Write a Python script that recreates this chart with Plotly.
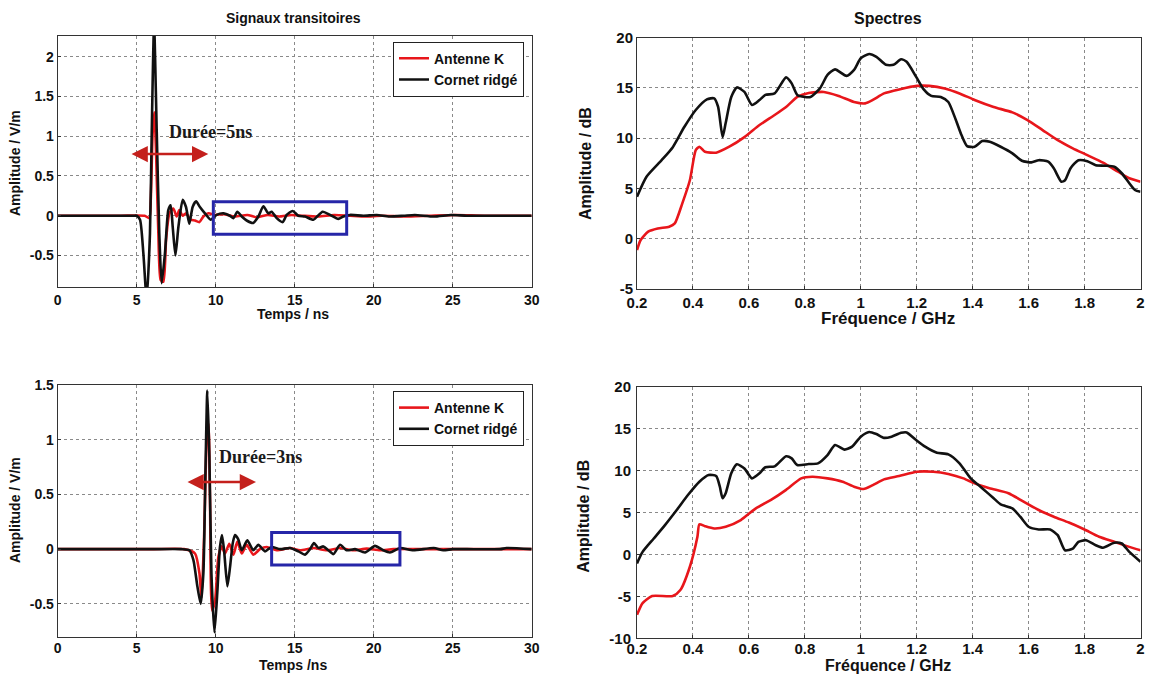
import plotly.graph_objects as go

# ---------------- data ----------------
series_names = ["Antenne K", "Cornet ridgé"]

# Top-left: transient signals (time in ns, amplitude in V/m)
tl_red_t = [0, 2.0, 4.0, 5.5, 5.8, 5.89, 6.01, 6.12, 6.22, 6.37, 6.52, 6.69, 6.86, 7.07, 7.32, 7.53, 7.7, 7.91, 8.12, 8.42, 8.69, 8.97, 9.22,
            9.54, 9.96, 10.5, 11.2, 12.0, 12.6, 13.3, 14.0, 14.8, 15.5, 16.5, 17.5, 18.5, 19.5, 20.5, 22.0, 23.5, 25.2, 27.0, 30.0]
tl_red_v = [0, 0, 0, 0, -0.03, 0.2, 1.04, 1.3, 0.83, -0.22, -0.81, -0.83, -0.3, 0.03, 0.09, -0.01, 0.07, 0.0, 0.03, -0.05, -0.06, -0.08, -0.01,
            0.03, 0.01, 0.02, -0.01, 0.01, -0.02, 0.01, -0.01, 0.01, 0.0, -0.01, 0.01, 0.0, -0.01, 0.0, -0.01, 0.0, 0.01, 0.0, 0.0]
tl_black_t = [0, 2.0, 4.0, 4.8, 5.0, 5.21, 5.42, 5.63, 5.84, 5.95, 6.1, 6.27, 6.43, 6.58, 6.79, 7.0, 7.15, 7.28, 7.45, 7.64, 7.91, 8.12, 8.33,
              8.54, 8.76, 9.0, 9.32, 9.68, 10.06, 10.49, 10.9, 11.12, 11.37, 11.65, 11.96, 12.38, 12.7, 13.02, 13.33, 13.54, 13.86, 14.24, 14.49,
              14.87, 15.23, 15.65, 16.18, 16.77, 17.24, 17.76, 18.08, 18.5, 19.35, 20.19, 21.0, 21.9, 22.6, 23.8, 24.9, 25.9, 28.0, 30.0]
tl_black_v = [0, 0, 0, 0, 0, -0.05, -0.47, -1.05, -0.22, 1.03, 2.4, 1.04, -0.22, -0.85, -0.47, 0.07, 0.13, -0.14, -0.5, -0.14, 0.2, 0.11, -0.1,
              0.11, 0.18, 0.11, 0.03, -0.05, 0.01, 0.03, 0.0, -0.03, 0.05, -0.01, -0.06, -0.09, -0.01, 0.12, 0.03, 0.05, -0.03, -0.08, 0.01,
              0.06, 0.0, -0.01, -0.05, 0.05, 0.01, -0.04, -0.01, 0.01, 0.0, 0.01, -0.01, 0.0, 0.01, -0.01, 0.01, 0.0, 0.0, 0.0]

# Bottom-left: transient signals
bl_red_t = [0, 3.0, 6.0, 8.0, 8.69, 8.97, 9.1, 9.26, 9.43, 9.54, 9.64, 9.77, 9.96, 10.17, 10.38, 10.59, 10.86, 11.12, 11.37, 11.65, 11.96, 12.38, 12.8,
            13.23, 13.86, 14.7, 15.34, 16.18, 17.03, 17.87, 18.7, 19.56, 20.4, 21.25, 24.0, 26.0, 30.0]
bl_red_v = [0, 0, 0, 0, -0.04, -0.22, -0.45, 0.09, 1.0, 1.15, 0.45, -0.56, -0.47, -0.07, 0.025, -0.04, 0.05, -0.05, 0.07, -0.04, 0.04, -0.05, 0.0,
            0.02, -0.01, 0.01, -0.01, 0.01, -0.01, 0.01, -0.01, 0.005, -0.01, 0.0, 0.0, 0.0, 0.0]
bl_black_t = [0, 3.0, 6.0, 7.8, 8.33, 8.59, 8.84, 9.05, 9.22, 9.35, 9.47, 9.6, 9.73, 9.92, 10.1, 10.27, 10.4, 10.53, 10.74, 10.91, 11.08, 11.22, 11.43,
              11.65, 12.0, 12.38, 12.7, 13.12, 13.54, 14.07, 14.7, 15.23, 15.65, 15.97, 16.22, 16.5, 16.81, 17.13, 17.45, 17.87, 18.29, 18.82, 19.45,
              20.08, 20.6, 21.03, 21.67, 22.5, 23.8, 24.4, 25.0, 25.9, 28.0, 28.4, 30.0]
bl_black_v = [0, 0, 0, 0, -0.01, -0.1, -0.34, -0.5, -0.22, 0.7, 1.45, 0.85, -0.22, -0.76, -0.4, 0.02, 0.13, -0.01, -0.34, -0.16, 0.055, 0.13, 0.09,
              -0.01, 0.08, -0.01, 0.04, -0.02, 0.02, 0.0, 0.01, -0.02, -0.05, 0.0, 0.055, 0.01, 0.025, -0.01, -0.045, 0.04, -0.01, 0.0, -0.03,
              0.03, -0.01, -0.03, 0.01, -0.01, 0.01, -0.01, 0.0, 0.0, 0.0, 0.01, 0.0]

# Top-right: spectra (GHz, dB)
tr_red_f = [0.2, 0.213, 0.24, 0.274, 0.315, 0.335, 0.362, 0.389, 0.41, 0.423, 0.443, 0.483, 0.53, 0.584, 0.638, 0.692, 0.733, 0.773, 0.814, 0.868,
            0.921, 0.976, 1.016, 1.043, 1.083, 1.137, 1.2, 1.245, 1.3, 1.353, 1.407, 1.475, 1.542, 1.596, 1.65, 1.704, 1.758, 1.81, 1.866, 1.92,
            1.96, 2.0]
tr_red_db = [-1.15, -0.15, 0.68, 1.0, 1.17, 1.5, 3.5, 5.8, 8.8, 9.14, 8.64, 8.55, 9.14, 10.1, 11.3, 12.3, 13.1, 14.1, 14.5, 14.6,
             14.2, 13.6, 13.46, 13.8, 14.45, 14.85, 15.2, 15.2, 14.95, 14.45, 13.8, 13.1, 12.56, 11.8, 10.8, 9.8, 8.98, 8.3, 7.55, 6.65,
             6.0, 5.66]
tr_black_f = [0.2, 0.234, 0.288, 0.328, 0.369, 0.41, 0.45, 0.476, 0.49, 0.506, 0.517, 0.537, 0.557, 0.584, 0.611, 0.638, 0.659, 0.692, 0.733, 0.753,
              0.773, 0.8, 0.82, 0.854, 0.881, 0.908, 0.949, 0.976, 1.0, 1.03, 1.056, 1.09, 1.117, 1.144, 1.164, 1.198, 1.225, 1.252, 1.286, 1.313,
              1.34, 1.36, 1.38, 1.407, 1.434, 1.461, 1.5, 1.542, 1.576, 1.61, 1.636, 1.67, 1.69, 1.717, 1.73, 1.75, 1.778, 1.81, 1.84, 1.872,
              1.906, 1.933, 1.96, 1.98, 2.0]
tr_black_db = [4.16, 6.15, 7.8, 9.1, 11.1, 12.8, 13.86, 13.96, 13.1, 10.1, 11.5, 14.1, 15.05, 14.6, 13.3, 13.8, 14.3, 14.45, 16.05, 15.45,
               14.3, 14.1, 14.1, 14.95, 16.3, 16.85, 16.2, 16.8, 17.95, 18.37, 18.1, 17.3, 17.3, 17.85, 17.6, 16.1, 14.85, 14.2, 14.1, 13.6,
               11.8, 10.3, 9.2, 9.14, 9.7, 9.64, 9.14, 8.48, 7.75, 7.58, 7.8, 7.65, 7.0, 5.66, 5.8, 7.0, 7.8, 7.7, 7.3, 7.25,
               7.15, 6.5, 5.5, 4.83, 4.66]

# Bottom-right: spectra
br_red_f = [0.2, 0.22, 0.254, 0.328, 0.355, 0.389, 0.416, 0.423, 0.443, 0.476, 0.517, 0.571, 0.625, 0.679, 0.733, 0.787, 0.827, 0.881, 0.935, 0.976,
            1.01, 1.043, 1.083, 1.137, 1.2, 1.259, 1.313, 1.367, 1.407, 1.46, 1.528, 1.582, 1.636, 1.69, 1.744, 1.798, 1.852, 1.906, 1.96, 2.0]
br_red_db = [-7.2, -5.8, -4.96, -4.96, -4.25, -1.47, 2.1, 3.6, 3.37, 3.1, 3.3, 4.1, 5.5, 6.5, 7.7, 9.07, 9.27, 9.07, 8.67, 8.08,
             7.8, 8.27, 8.95, 9.35, 9.86, 9.86, 9.6, 9.07, 8.47, 7.9, 7.3, 6.3, 5.3, 4.5, 3.8, 3.0, 2.1, 1.5, 0.9, 0.5]
br_black_f = [0.2, 0.22, 0.26, 0.3, 0.342, 0.382, 0.423, 0.456, 0.483, 0.496, 0.506, 0.517, 0.537, 0.557, 0.584, 0.611, 0.638, 0.659, 0.692, 0.733,
              0.753, 0.773, 0.814, 0.847, 0.881, 0.908, 0.942, 0.969, 1.0, 1.03, 1.056, 1.083, 1.11, 1.144, 1.164, 1.198, 1.23, 1.272, 1.313, 1.353,
              1.393, 1.434, 1.475, 1.5, 1.542, 1.57, 1.6, 1.636, 1.677, 1.704, 1.73, 1.758, 1.778, 1.805, 1.84, 1.866, 1.906, 1.933, 1.96, 2.0]
br_black_db = [-1.07, 0.3, 1.9, 3.5, 5.3, 7.08, 8.67, 9.47, 9.35, 8.1, 6.7, 7.3, 9.67, 10.74, 10.26, 9.07, 9.67, 10.4, 10.5, 11.7,
               11.45, 10.66, 10.78, 10.86, 11.85, 13.05, 12.5, 12.85, 14.04, 14.6, 14.35, 13.9, 14.04, 14.5, 14.55, 13.64, 12.85, 12.13, 11.93, 10.86,
               9.07, 7.9, 6.7, 5.97, 5.5, 4.5, 3.3, 2.98, 2.98, 2.3, 0.5, 0.7, 1.5, 1.7, 1.1, 0.8, 1.4, 1.3, 0.3, -0.87]

# tick values / labels
time_ticks = [0, 5, 10, 15, 20, 25, 30]
time_ticktext = ["0", "5", "10", "15", "20", "25", "30"]
tl_yticks = [-0.5, 0, 0.5, 1, 1.5, 2]
tl_yticktext = ["-0.5", "0", "0.5", "1", "1.5", "2"]
bl_yticks = [-0.5, 0, 0.5, 1, 1.5]
bl_yticktext = ["-0.5", "0", "0.5", "1", "1.5"]
freq_ticks = [0.2, 0.4, 0.6, 0.8, 1.0, 1.2, 1.4, 1.6, 1.8, 2.0]
freq_ticktext = ["0.2", "0.4", "0.6", "0.8", "1", "1.2", "1.4", "1.6", "1.8", "2"]
tr_yticks = [-5, 0, 5, 10, 15, 20]
tr_yticktext = ["-5", "0", "5", "10", "15", "20"]
br_yticks = [-10, -5, 0, 5, 10, 15, 20]
br_yticktext = ["-10", "-5", "0", "5", "10", "15", "20"]

# annotation contents
dur_top_label = "Durée=5ns"
dur_bot_label = "Durée=3ns"

# ---------------- styling ----------------
W, H = 1151, 674
RED = "#e8161b"
BLACK = "#111111"
SANS = "Liberation Sans, Arial, sans-serif"
SERIF = "Liberation Serif, Times New Roman, serif"


def px_x(p):
    return p / W


def px_y(p):
    return 1 - p / H


fig = go.Figure()

trace_specs = [
    (tl_red_t, tl_red_v, RED, "x", "y", series_names[0], True, "legend"),
    (tl_black_t, tl_black_v, BLACK, "x", "y", series_names[1], True, "legend"),
    (tr_red_f, tr_red_db, RED, "x2", "y2", series_names[0], False, "legend"),
    (tr_black_f, tr_black_db, BLACK, "x2", "y2", series_names[1], False, "legend"),
    (bl_red_t, bl_red_v, RED, "x3", "y3", series_names[0], True, "legend2"),
    (bl_black_t, bl_black_v, BLACK, "x3", "y3", series_names[1], True, "legend2"),
    (br_red_f, br_red_db, RED, "x4", "y4", series_names[0], False, "legend2"),
    (br_black_f, br_black_db, BLACK, "x4", "y4", series_names[1], False, "legend2"),
]
for xs, ys, col, xa, ya, name, show, leg in trace_specs:
    fig.add_trace(go.Scatter(
        x=xs, y=ys, mode="lines", name=name, showlegend=show, legend=leg,
        xaxis=xa, yaxis=ya,
        line=dict(color=col, width=2.6, shape="spline", smoothing=0.6),
    ))


def axis(domain, rng, tickvals, ticktext, anchor, size, standoff=0):
    return dict(
        domain=domain, range=rng, anchor=anchor, automargin=False,
        tickmode="array", tickvals=tickvals, ticktext=ticktext,
        showline=True, mirror=True, linecolor="#333", linewidth=1,
        showgrid=True, gridcolor="#8a8a8a", griddash="dot", gridwidth=1,
        zeroline=False, ticks="inside", ticklen=3, tickcolor="#333",
        ticklabelstandoff=standoff,
        tickfont=dict(family=SANS, size=size, color="#111", weight="bold"),
    )


# domains from pixel measurements
L_x = [px_x(57.7), px_x(531.7)]
R_x = [px_x(637), px_x(1140.5)]
TL_y = [px_y(287.3), px_y(36)]
TR_y = [px_y(288.7), px_y(37.7)]
BL_y = [px_y(636.7), px_y(385)]
BR_y = [px_y(638.3), px_y(386.7)]

fig.update_layout(
    width=W, height=H,
    margin=dict(l=0, r=0, t=0, b=0, autoexpand=False),
    paper_bgcolor="white", plot_bgcolor="white",
    xaxis=axis(L_x, [0, 30], time_ticks, time_ticktext, "y", 14),
    yaxis=axis(TL_y, [-0.9, 2.26], tl_yticks, tl_yticktext, "x", 14),
    xaxis2=axis(R_x, [0.2, 2.0], freq_ticks, freq_ticktext, "y2", 15),
    yaxis2=axis(TR_y, [-5, 20], tr_yticks, tr_yticktext, "x2", 15),
    xaxis3=axis(L_x, [0, 30], time_ticks, time_ticktext, "y3", 14, -2),
    yaxis3=axis(BL_y, [-0.8, 1.5], bl_yticks, bl_yticktext, "x3", 14),
    xaxis4=axis(R_x, [0.2, 2.0], freq_ticks, freq_ticktext, "y4", 15, -3),
    yaxis4=axis(BR_y, [-10, 20], br_yticks, br_yticktext, "x4", 15, 2),
    legend=dict(
        x=px_x(393), y=px_y(41.7), xanchor="left", yanchor="top",
        bgcolor="white", bordercolor="#222", borderwidth=1,
        font=dict(family=SANS, size=14, color="#111", weight="bold"),
        itemwidth=30, tracegroupgap=0,
    ),
    legend2=dict(
        x=px_x(393), y=px_y(391), xanchor="left", yanchor="top",
        bgcolor="white", bordercolor="#222", borderwidth=1,
        font=dict(family=SANS, size=14, color="#111", weight="bold"),
        itemwidth=30, tracegroupgap=0,
    ),
    showlegend=True,
)

# titles / axis titles as annotations
title_specs = [
    ("Signaux transitoires", 293, 18.3, 14, 0),
    ("Spectres", 888, 18.3, 16, 0),
    ("Temps / ns", 293.3, 314, 14, 0),
    ("Temps /ns", 293.3, 664.5, 14, 0),
    ("Fréquence / GHz", 888, 318.3, 17, 0),
    ("Fréquence / GHz", 888, 665.5, 16, 0),
    ("Amplitude / V/m", 15, 163, 14, -90),
    ("Amplitude / V/m", 15, 510, 14, -90),
    ("Amplitude / dB", 586, 164, 16, -90),
    ("Amplitude / dB", 584, 516.7, 16, -90),
]
for txt, x, y, sz, ang in title_specs:
    fig.add_annotation(
        text=txt, x=px_x(x), y=px_y(y), xref="paper", yref="paper",
        xanchor="center", yanchor="middle", showarrow=False, textangle=ang,
        font=dict(family=SANS, size=sz, color="#111", weight="bold"),
    )

# duration labels
fig.add_annotation(text=dur_top_label, x=9.69, y=1.05, xref="x", yref="y", showarrow=False,
                   font=dict(family=SERIF, size=18, color="#1a1a1a", weight="bold"))
fig.add_annotation(text=dur_bot_label, x=12.85, y=0.846, xref="x3", yref="y3", showarrow=False,
                   font=dict(family=SERIF, size=18, color="#1a1a1a", weight="bold"))

# double-headed arrows
ARROW = "#c4201c"
fig.add_annotation(text="", x=9.53, y=0.776, ax=4.58, ay=0.776, xref="x", yref="y", axref="x", ayref="y",
                   showarrow=True, arrowhead=2, arrowside="end+start", arrowsize=1.3, arrowwidth=2.5, arrowcolor=ARROW)
fig.add_annotation(text="", x=12.55, y=0.613, ax=8.12, ay=0.613, xref="x3", yref="y3", axref="x3", ayref="y3",
                   showarrow=True, arrowhead=2, arrowside="end+start", arrowsize=1.3, arrowwidth=2.5, arrowcolor=ARROW)

# blue highlight boxes
BLUE = "#2626a8"
fig.add_shape(type="rect", xref="x", yref="y", x0=9.85, x1=18.29, y0=-0.234, y1=0.176,
              line=dict(color=BLUE, width=3), fillcolor="rgba(0,0,0,0)")
fig.add_shape(type="rect", xref="x3", yref="y3", x0=13.54, x1=21.66, y0=-0.144, y1=0.153,
              line=dict(color=BLUE, width=3), fillcolor="rgba(0,0,0,0)")

fig.write_html(
    "out.html",
    config={"displayModeBar": False},
    post_script="document.body.style.margin='0';document.body.style.overflow='hidden';",
)
